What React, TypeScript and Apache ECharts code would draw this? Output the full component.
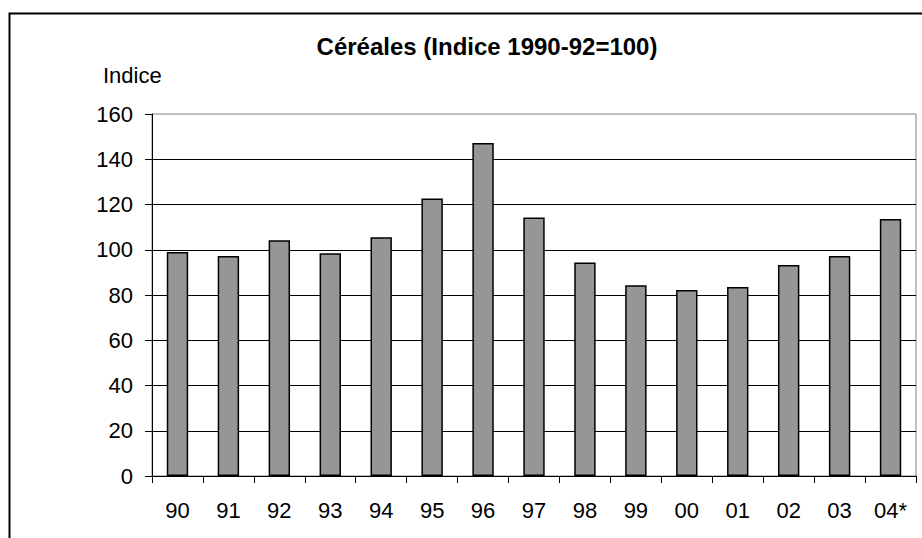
import React, { useEffect, useRef } from "react";
import * as echarts from "echarts";

const categories = ["90", "91", "92", "93", "94", "95", "96", "97", "98", "99", "00", "01", "02", "03", "04*"];
const values = [99, 97.2, 104.2, 98.4, 105.5, 122.7, 147.2, 114.3, 94.4, 84.3, 82.2, 83.5, 93.3, 97.2, 113.6];
const titleText = "Céréales (Indice 1990-92=100)";
const yAxisTitle = "Indice";

const FONT = "'Liberation Sans', Arial, sans-serif";

export default function App() {
  const ref = useRef<HTMLDivElement>(null);
  useEffect(() => {
    if (!ref.current) return;
    const chart = echarts.init(ref.current, null, { renderer: "svg" });
    chart.setOption({
      animation: false,
      backgroundColor: "#ffffff",
      title: {
        text: titleText,
        left: 482,
        top: 29,
        textAlign: "center",
        textStyle: { fontFamily: FONT, fontSize: 24, fontWeight: "bold", color: "#000" },
      },
      graphic: [
        {
          type: "rect",
          shape: { x: 9.5, y: 13.5, width: 1000, height: 1000 },
          style: { fill: "none", stroke: "#000", lineWidth: 2 },
          silent: true,
        },
        {
          type: "text",
          left: 103,
          top: 64,
          style: { text: yAxisTitle, fontFamily: FONT, fontSize: 22, fill: "#000" },
        },
      ],
      grid: {
        left: 152,
        right: 6,
        top: 114,
        bottom: 62,
        show: true,
        borderColor: "#808080",
        borderWidth: 1,
        backgroundColor: "transparent",
      },
      xAxis: {
        type: "category",
        data: categories,
        boundaryGap: true,
        axisLine: { show: true, lineStyle: { color: "#000", width: 1 } },
        axisTick: { show: true, alignWithLabel: false, length: 7, lineStyle: { color: "#000" } },
        axisLabel: { fontFamily: FONT, fontSize: 22, color: "#000", margin: 23, interval: 0 },
        splitLine: { show: false },
      },
      yAxis: {
        type: "value",
        min: 0,
        max: 160,
        interval: 20,
        axisLine: { show: true, lineStyle: { color: "#000", width: 1 } },
        axisTick: { show: true, length: 7, lineStyle: { color: "#000" } },
        axisLabel: { fontFamily: FONT, fontSize: 22, color: "#000", margin: 19 },
        splitLine: { show: true, showMaxLine: false, lineStyle: { color: "#000", width: 1 } },
      },
      series: [
        {
          type: "bar",
          data: values,
          barWidth: "42%",
          itemStyle: { color: "#969696", borderColor: "#000", borderWidth: 1.5 },
        },
      ],
    });
    return () => chart.dispose();
  }, []);
  return (
    <div
      ref={ref}
      style={{ position: "absolute", left: 0, top: 0, width: 922, height: 538 }}
    />
  );
}
